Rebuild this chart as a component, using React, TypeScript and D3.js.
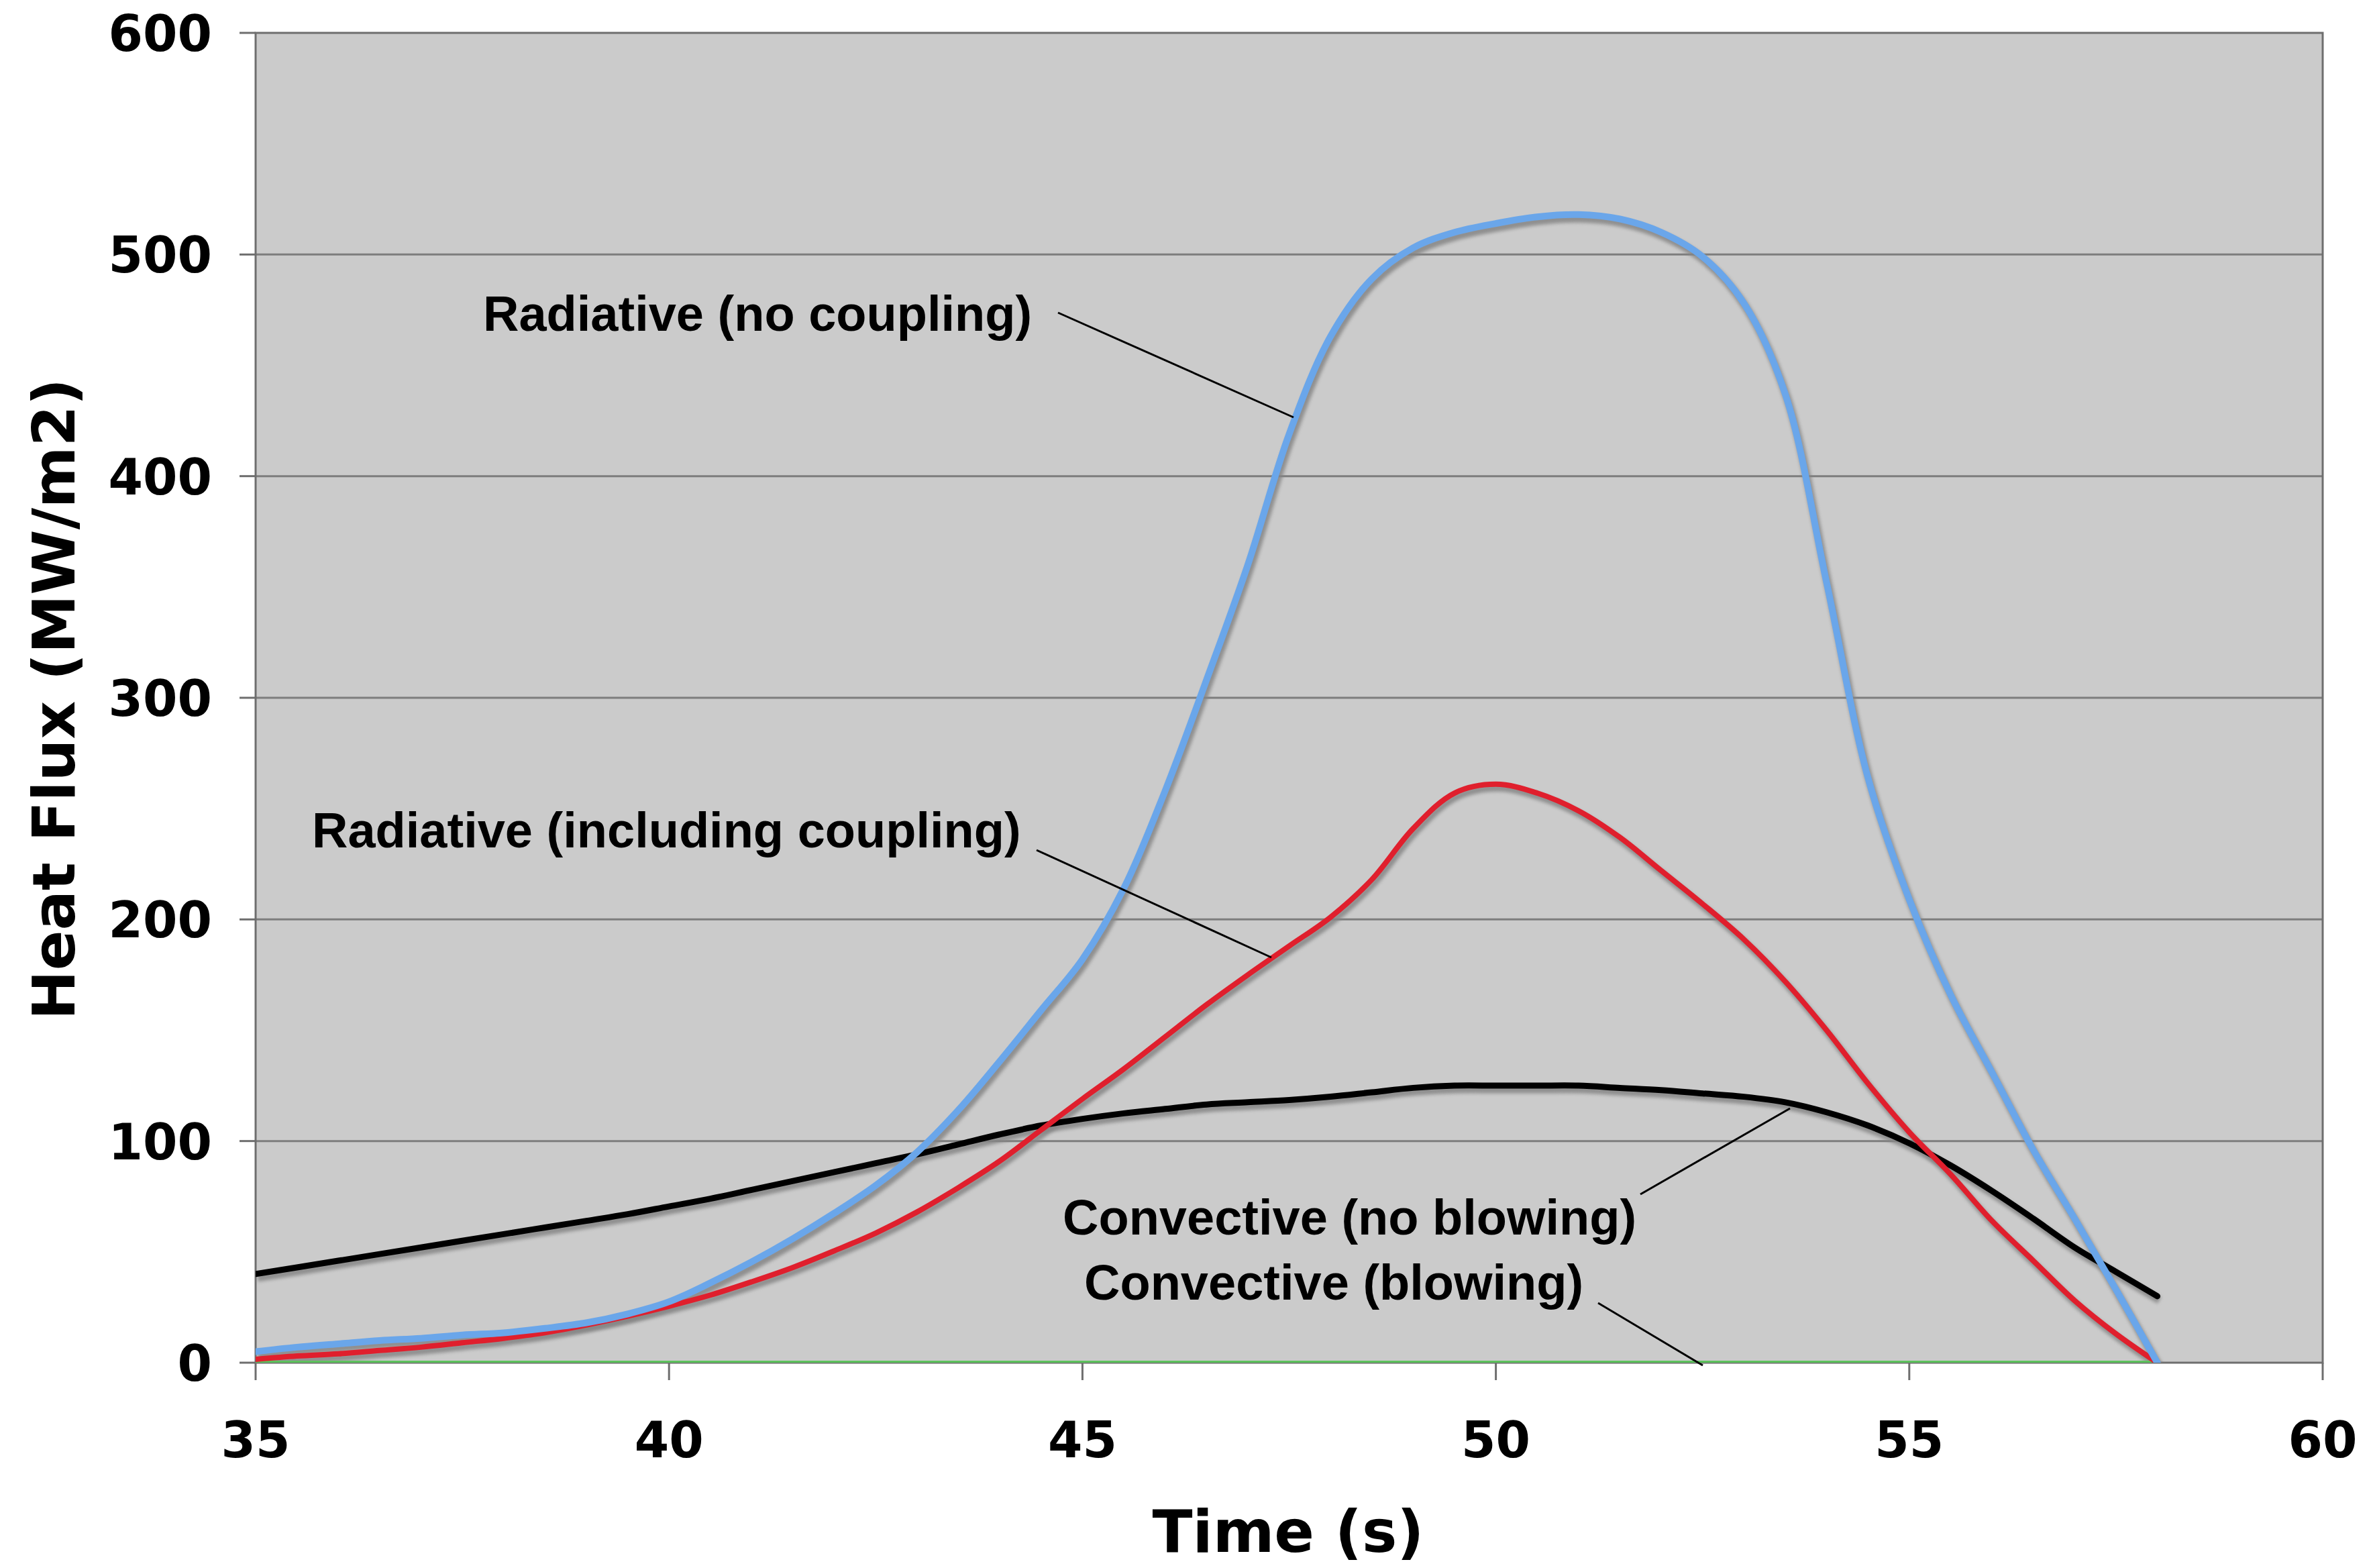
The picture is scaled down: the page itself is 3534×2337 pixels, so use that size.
import React from "react";
import * as d3 from "d3";

const times = [35,35.5,36,36.5,37,37.5,38,38.5,39,39.5,40,40.5,41,41.5,42,42.5,43,43.5,44,44.5,45,45.5,46,46.5,47,47.5,48,48.5,49,49.5,50,50.5,51,51.5,52,52.5,53,53.5,54,54.5,55,55.5,56,56.5,57,57.5,58];

const radNoCoupling = [5,7,8.5,10,11,12.5,13.5,15.5,18,22,27.5,36,45.5,56,67.5,80,95,114,136,159,182,214,258,308,360,419,463,489,503,510,514,517,518,516,510,499,478,437,352,264,209,166,131,96,65,33,0];

const radCoupling = [1.5,3,4,5.5,7,9,11,13.5,17,21,25.5,30.5,36.5,43,50.5,58.5,68,79,91,105,119,132.5,147,161.5,175,188,201,218,241,257,261,257,249,237,222,207,191,172,150,126,104,85,64,46,28,13,0];

const convNoBlowing = [40,43,46,49,52,55,58,61,64,67,70.5,74,78,82,86,90,94,98.5,103,107,110,112.5,114.5,116.5,117.5,118.5,120,122,124,125,125,125,125,124,123,121.5,120,117.5,113,107,99,89,77.5,65,52,41,30];

const convBlowing = [0,0,0,0,0,0,0,0,0,0,0,0,0,0,0,0,0,0,0,0,0,0,0,0,0,0,0,0,0,0,0,0,0,0,0,0,0,0,0,0,0,0,0,0,0,0,0];

const xTicks = [35, 40, 45, 50, 55, 60];
const yTicks = [0, 100, 200, 300, 400, 500, 600];

const labels = [
  { text: "Radiative (no coupling)", x: 720, y: 493, lx1: 1577, ly1: 466, lx2: 1928, ly2: 622 },
  { text: "Radiative (including coupling)", x: 465, y: 1263, lx1: 1545, ly1: 1267, lx2: 1895, ly2: 1427 },
  { text: "Convective (no blowing)", x: 1584, y: 1840, lx1: 2445, ly1: 1780, lx2: 2668, ly2: 1652 },
  { text: "Convective (blowing)", x: 1616, y: 1937, lx1: 2382, ly1: 1942, lx2: 2538, ly2: 2035 },
];

export default function App() {
  const W = 3534, H = 2337;
  const left = 381, right = 3462, top = 49, bottom = 2031;
  const x = d3.scaleLinear().domain([35, 60]).range([left, right]);
  const y = d3.scaleLinear().domain([0, 600]).range([bottom, top]);

  const mk = (vals: number[]) =>
    d3.line<number>()
      .x((_, i) => x(times[i]))
      .y((v) => y(v))
      .curve(d3.curveCatmullRom.alpha(0.5))(vals) || "";

  const series = [
    { vals: convBlowing, color: "#5cc15c", w: 6, shadow: false },
    { vals: convNoBlowing, color: "#000000", w: 9, shadow: true },
    { vals: radCoupling, color: "#e01f2d", w: 8, shadow: true },
    { vals: radNoCoupling, color: "#6aa6ea", w: 10, shadow: true },
  ];

  const tickFont = "'DejaVu Sans', Verdana, sans-serif";
  const annFont = "'Liberation Sans', Arial, Helvetica, sans-serif";

  return (
    <svg width={W} height={H} style={{ position: "absolute", left: 0, top: 0, background: "#fff" }}>
      <defs>
        <filter id="blur" x="-5%" y="-5%" width="110%" height="110%">
          <feGaussianBlur stdDeviation="2.5" />
        </filter>
        <clipPath id="clip">
          <rect x={left} y={top - 10} width={right - left} height={bottom - top + 10} />
        </clipPath>
      </defs>
      <rect x={left} y={top} width={right - left} height={bottom - top} fill="#cbcbcb" />
      {yTicks.filter((t) => t > 0 && t < 600).map((t) => (
        <line key={t} x1={left} x2={right} y1={y(t)} y2={y(t)} stroke="#7d7d7d" strokeWidth={3} />
      ))}
      <rect x={left} y={top} width={right - left} height={bottom - top} fill="none" stroke="#6e6e6e" strokeWidth={3} />
      {yTicks.map((t) => (
        <line key={"yt" + t} x1={left - 24} x2={left} y1={y(t)} y2={y(t)} stroke="#6e6e6e" strokeWidth={3} />
      ))}
      {xTicks.map((t) => (
        <line key={"xt" + t} x1={x(t)} x2={x(t)} y1={bottom} y2={bottom + 26} stroke="#6e6e6e" strokeWidth={3} />
      ))}
      <g clipPath="url(#clip)">
        {series.filter((s) => s.shadow).map((s, i) => (
          <path key={"sh" + i} d={mk(s.vals)} fill="none" stroke="#858585" strokeWidth={s.w + 2}
            transform="translate(3,6)" filter="url(#blur)" opacity={0.85} />
        ))}
        {series.map((s, i) => (
          <path key={"s" + i} d={mk(s.vals)} fill="none" stroke={s.color} strokeWidth={s.w}
            strokeLinejoin="round" strokeLinecap="round" />
        ))}
      </g>
      {labels.map((l, i) => (
        <g key={"lab" + i}>
          <text x={l.x} y={l.y} fontFamily={annFont} fontWeight="bold" fontSize={74} fill="#000">{l.text}</text>
          <line x1={l.lx1} y1={l.ly1} x2={l.lx2} y2={l.ly2} stroke="#000" strokeWidth={3} />
        </g>
      ))}
      {yTicks.map((t) => (
        <text key={"yl" + t} x={316} y={y(t) + 27} textAnchor="end" fontFamily={tickFont}
          fontWeight="bold" fontSize={74} fill="#000">{t}</text>
      ))}
      {xTicks.map((t) => (
        <text key={"xl" + t} x={x(t)} y={2172} textAnchor="middle" fontFamily={tickFont}
          fontWeight="bold" fontSize={74} fill="#000">{t}</text>
      ))}
      <text x={1920} y={2313} textAnchor="middle" fontFamily={tickFont} fontWeight="bold" fontSize={88} fill="#000">Time (s)</text>
      <text transform={`translate(111,1042) rotate(-90)`} textAnchor="middle" fontFamily={tickFont}
        fontWeight="bold" fontSize={88} fill="#000">Heat Flux (MW/m2)</text>
    </svg>
  );
}
